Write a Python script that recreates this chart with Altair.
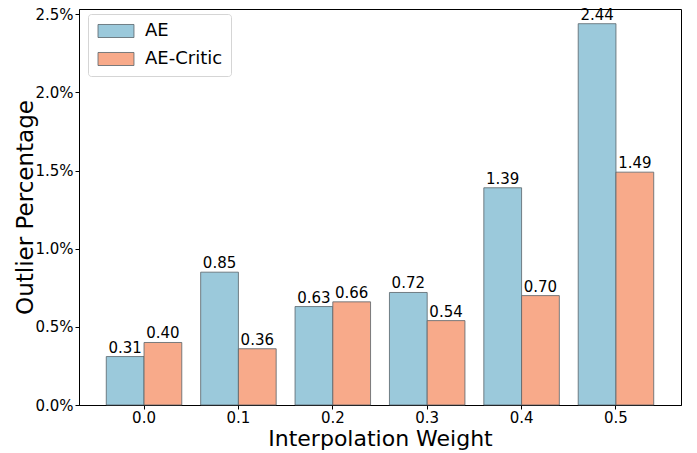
import altair as alt
import pandas as pd

weights = ["0.0", "0.1", "0.2", "0.3", "0.4", "0.5"]
ae_values = [0.31, 0.85, 0.63, 0.72, 1.39, 2.44]
critic_values = [0.40, 0.36, 0.66, 0.54, 0.70, 1.49]
series_names = ["AE", "AE-Critic"]
series_colors = ["#9bc9db", "#f8aa8a"]
y_ticks = [0.0, 0.5, 1.0, 1.5, 2.0, 2.5]

rows = []
for w, a, c in zip(weights, ae_values, critic_values):
    rows.append({"weight": w, "series": series_names[0], "value": a})
    rows.append({"weight": w, "series": series_names[1], "value": c})
df = pd.DataFrame(rows)

FONT = "DejaVu Sans"

x_enc = alt.X(
    "weight:N",
    sort=weights,
    scale=alt.Scale(paddingInner=0.2, paddingOuter=0.289),
    axis=alt.Axis(
        title="Interpolation Weight",
        labelAngle=0,
        labelFontSize=15,
        titleFontSize=22,
        labelPadding=1,
        tickSize=4,
        titleBaseline="alphabetic",
        titleY=40,
    ),
)
y_enc = alt.Y(
    "value:Q",
    scale=alt.Scale(domain=[0, 2.534], nice=False, zero=True),
    axis=alt.Axis(
        title="Outlier Percentage",
        values=y_ticks,
        labelExpr="format(datum.value, '.1f') + '%'",
        labelFontSize=15,
        titleFontSize=23,
        tickSize=4,
        labelPadding=2,
        titleBaseline="alphabetic",
        titleX=-47,
    ),
)
xoff = alt.XOffset(
    "series:N",
    sort=series_names,
    scale=alt.Scale(paddingInner=0, paddingOuter=0),
)

bars = alt.Chart(df).mark_bar(stroke="#58636a", strokeWidth=0.8).encode(
    x=x_enc,
    y=y_enc,
    xOffset=xoff,
    color=alt.Color(
        "series:N",
        sort=series_names,
        scale=alt.Scale(domain=series_names, range=series_colors),
        legend=alt.Legend(
            title=None,
            orient="none",
            legendX=9,
            legendY=5,
            labelFontSize=18,
            symbolType="M-1,-0.93H4.14V0.93H-1Z",
            symbolSize=196,
            symbolStrokeColor="#58636a",
            symbolStrokeWidth=0.8,
            symbolOpacity=1,
            labelOffset=31,
            rowPadding=10,
            padding=8,
            fillColor="white",
            strokeColor="#d5d5d5",
            cornerRadius=3,
        ),
    ),
)

labels = alt.Chart(df).mark_text(
    baseline="bottom", dy=-1, fontSize=15, color="black", font=FONT
).encode(
    x=alt.X("weight:N", sort=weights),
    y="value:Q",
    xOffset=alt.XOffset("series:N", sort=series_names),
    text=alt.Text("value:Q", format=".2f"),
)

chart = (
    alt.layer(bars, labels)
    .properties(
        width=602,
        height=396,
        autosize=alt.AutoSizeParams(type="none"),
        padding={"left": 71, "top": 1, "right": 4, "bottom": 47},
    )
    .configure(font=FONT)
    .configure_view(stroke="black", strokeWidth=1)
    .configure_axis(
        grid=False,
        domainColor="black",
        tickColor="black",
        labelColor="black",
        titleColor="black",
        titleFontWeight="normal",
        labelFont=FONT,
        titleFont=FONT,
    )
    .configure_legend(labelFont=FONT, labelColor="black")
)

chart.save("out.html", embed_options={"renderer": "svg", "actions": False})
